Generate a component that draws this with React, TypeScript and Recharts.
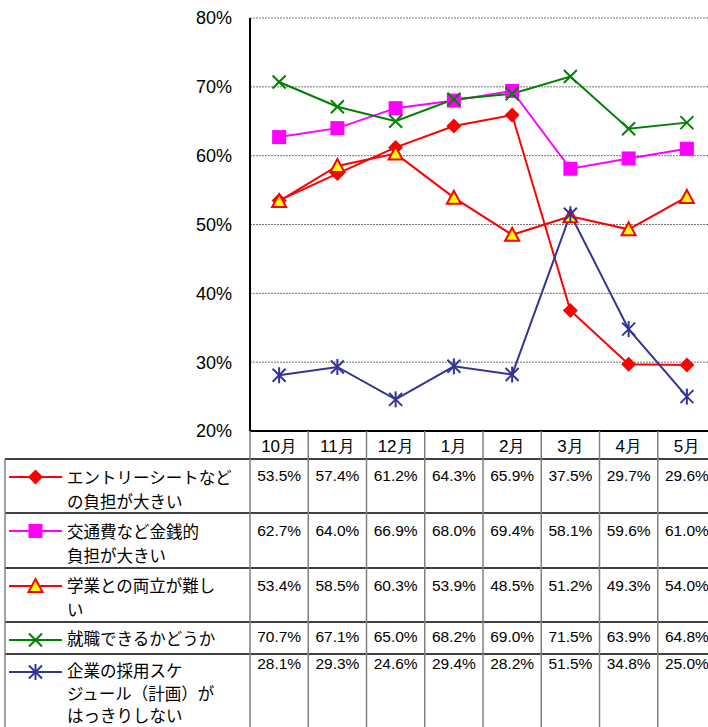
import { LineChart, Line, XAxis, YAxis, CartesianGrid } from "recharts";

// 月別の不安要素（%）
const months = ["10月", "11月", "12月", "1月", "2月", "3月", "4月", "5月"];
const entrySheet = [53.5, 57.4, 61.2, 64.3, 65.9, 37.5, 29.7, 29.6];
const travelCost = [62.7, 64.0, 66.9, 68.0, 69.4, 58.1, 59.6, 61.0];
const studyBalance = [53.4, 58.5, 60.3, 53.9, 48.5, 51.2, 49.3, 54.0];
const getJob = [70.7, 67.1, 65.0, 68.2, 69.0, 71.5, 63.9, 64.8];
const schedule = [28.1, 29.3, 24.6, 29.4, 28.2, 51.5, 34.8, 25.0];
const yTicks = [20, 30, 40, 50, 60, 70, 80];

const series = [
  { key: "entry", label: ["エントリーシートなど", "の負担が大きい"], values: entrySheet, color: "#FF0000", marker: "diamond" },
  { key: "travel", label: ["交通費など金銭的", "負担が大きい"], values: travelCost, color: "#FF00FF", marker: "square" },
  { key: "study", label: ["学業との両立が難し", "い"], values: studyBalance, color: "#FF0000", marker: "triangle" },
  { key: "job", label: ["就職できるかどうか"], values: getJob, color: "#008000", marker: "x" },
  { key: "schedule", label: ["企業の採用スケ", "ジュール（計画）が", "はっきりしない"], values: schedule, color: "#333399", marker: "star" },
];

const data = months.map((m, i) => {
  const row: Record<string, string | number> = { month: m };
  series.forEach((s) => (row[s.key] = s.values[i]));
  return row;
});

const W = 716;
const H = 727;
const AXIS_Y = 431;
const HEADER_BOTTOM = 459;
const rowTops = [459, 513, 568, 622, 654];
const valueBaselines = [481, 536, 591, 642, 669];
const labelBaselines = [[484, 508], [538, 562], [592, 616], [645], [677, 700, 722]];
const COL_HALF = 29.125;
const numFont = "'Liberation Sans', Arial, sans-serif";
const jpFont = "'Noto Sans CJK JP', sans-serif";

const Marker = ({ type, cx, cy, color }: { type: string; cx: number; cy: number; color: string }) => {
  if (type === "diamond")
    return <polygon points={`${cx},${cy - 7.5} ${cx + 7.5},${cy} ${cx},${cy + 7.5} ${cx - 7.5},${cy}`} fill={color} />;
  if (type === "square") return <rect x={cx - 7} y={cy - 7} width={14} height={14} fill={color} />;
  if (type === "triangle")
    return (
      <polygon
        points={`${cx},${cy - 7} ${cx + 7},${cy + 6} ${cx - 7},${cy + 6}`}
        fill="#FFFF00"
        stroke={color}
        strokeWidth={2}
      />
    );
  if (type === "x")
    return (
      <g stroke={color} strokeWidth={2}>
        <line x1={cx - 6.5} y1={cy - 6.5} x2={cx + 6.5} y2={cy + 6.5} />
        <line x1={cx - 6.5} y1={cy + 6.5} x2={cx + 6.5} y2={cy - 6.5} />
      </g>
    );
  return (
    <g stroke={color} strokeWidth={2}>
      <line x1={cx - 6.5} y1={cy - 6.5} x2={cx + 6.5} y2={cy + 6.5} />
      <line x1={cx - 6.5} y1={cy + 6.5} x2={cx + 6.5} y2={cy - 6.5} />
      <line x1={cx} y1={cy - 8} x2={cx} y2={cy + 8} />
    </g>
  );
};

const TableFrame = () => (
  <g>
    {rowTops.map((y) => (
      <line key={y} x1={5} x2={W} y1={y} y2={y} stroke="#000" strokeWidth={1.5} />
    ))}
    <line x1={5} x2={5} y1={HEADER_BOTTOM} y2={H} stroke="#808080" strokeWidth={1.5} />
    {series.map((s, r) => {
      const iconY = rowTops[r] + 18;
      return (
        <g key={s.key}>
          <line x1={9} x2={62} y1={iconY} y2={iconY} stroke={s.color} strokeWidth={2} />
          <Marker type={s.marker} cx={35.5} cy={iconY} color={s.color} />
          {s.label.map((t, k) => (
            <text key={k} x={67} y={labelBaselines[r][k]} fontSize={16.5} fontFamily={jpFont} fill="#000">
              {t}
            </text>
          ))}
        </g>
      );
    })}
  </g>
);

const TableTick = (props: any) => {
  const { x, payload } = props;
  const i = months.indexOf(payload.value);
  return (
    <g>
      {i === 0 && <TableFrame />}
      <line x1={x - COL_HALF} x2={x - COL_HALF} y1={AXIS_Y} y2={H} stroke="#808080" strokeWidth={1.5} />
      <text x={x} y={452} textAnchor="middle" fontSize={17} fontFamily={numFont} fill="#000">
        {payload.value}
      </text>
      {series.map((s, r) => (
        <text key={s.key} x={x} y={valueBaselines[r]} textAnchor="middle" fontSize={15.5} fontFamily={numFont} fill="#000">
          {s.values[i].toFixed(1)}%
        </text>
      ))}
    </g>
  );
};

export default function App() {
  return (
    <div style={{ position: "fixed", left: 0, top: 0, width: 708, height: 727, overflow: "hidden", background: "#fff" }}>
      <LineChart width={W} height={H} data={data} margin={{ top: 18, right: 0, bottom: 0, left: 0 }}>
        <CartesianGrid vertical={false} stroke="#777" strokeDasharray="2 1" />
        <XAxis
          dataKey="month"
          height={H - AXIS_Y}
          interval={0}
          padding={{ left: COL_HALF, right: COL_HALF }}
          axisLine={{ stroke: "#000", strokeWidth: 2 }}
          tickLine={false}
          tick={(p: any) => <TableTick {...p} />}
        />
        <YAxis
          width={250}
          domain={[20, 80]}
          ticks={yTicks}
          tickFormatter={(v: number) => `${v}%`}
          axisLine={{ stroke: "#000", strokeWidth: 2 }}
          tickLine={false}
          tickSize={0}
          tickMargin={18}
          tick={{ fontSize: 18, fill: "#000", fontFamily: numFont }}
        />
        {series.map((s) => (
          <Line
            key={s.key}
            dataKey={s.key}
            type="linear"
            stroke={s.color}
            strokeWidth={2}
            isAnimationActive={false}
            dot={(p: any) => <Marker key={p.index} type={s.marker} cx={p.cx} cy={p.cy} color={s.color} />}
          />
        ))}
      </LineChart>
    </div>
  );
}
